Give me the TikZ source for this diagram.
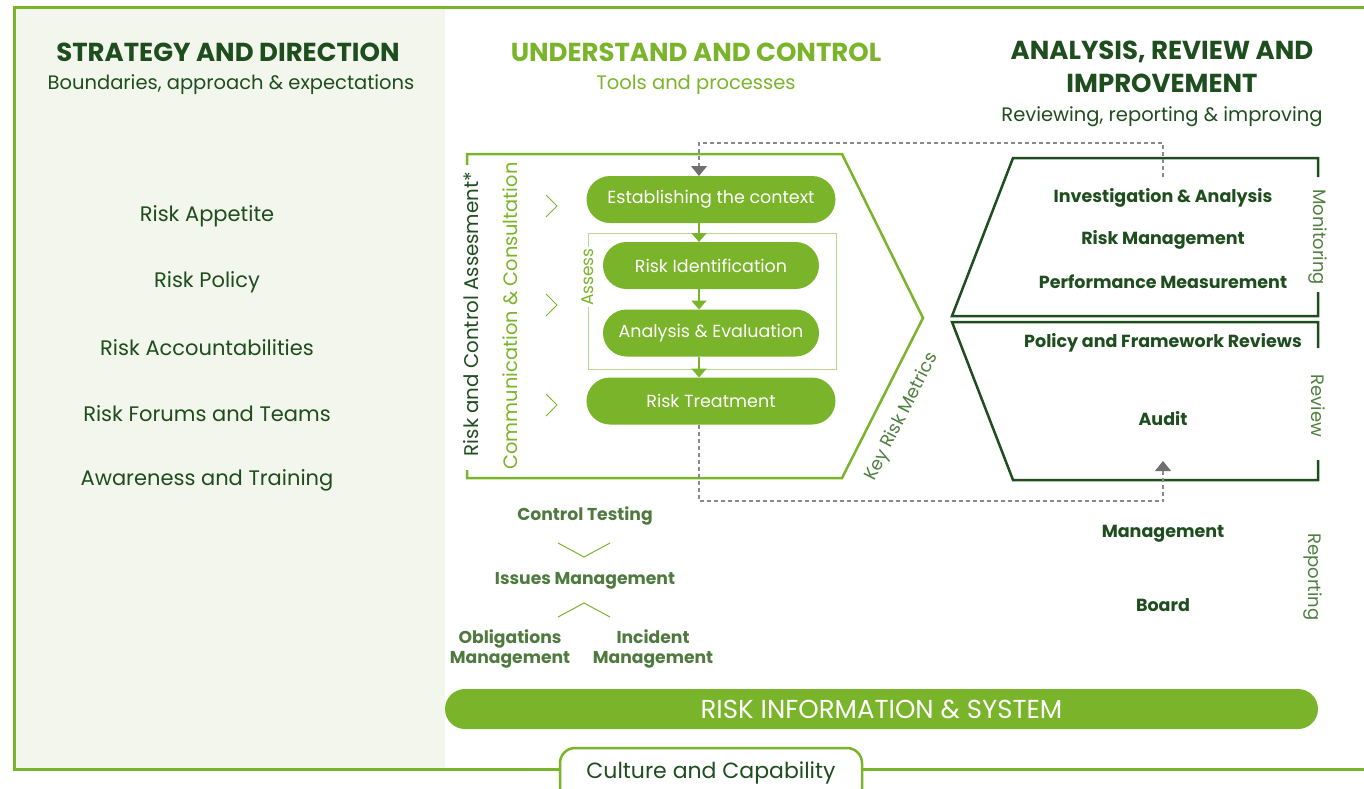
\documentclass[tikz,border=0pt]{standalone}
\usepackage{fontspec}
\setmainfont{Poppins}
\usetikzlibrary{arrows.meta}
\definecolor{lg}{HTML}{7AB42A}
\definecolor{dg}{HTML}{1E4D1E}
\definecolor{panel}{HTML}{F3F6EC}
\definecolor{mg}{HTML}{4F7A3F}
\definecolor{sidegreen}{HTML}{4F8040}
\definecolor{assessgreen}{HTML}{B7D68E}
\definecolor{dashgrey}{HTML}{8A8A8A}
\definecolor{tipgrey}{HTML}{6F6F6F}
\newcommand{\fs}[1]{\fontsize{#1}{#1}\selectfont}
\begin{document}
\begin{tikzpicture}[x=1pt,y=-1pt,
  every node/.style={inner sep=0pt, outer sep=0pt},
  heading/.style={font=\fs{26}\bfseries, align=center},
  subhead/.style={font=\fs{19.5}, align=center},
  listitem/.style={font=\fs{21}, text=dg},
  pill/.style={fill=lg, text=white, font=\fs{17.5}, rounded corners=23.5pt,
    minimum height=47pt},
  rightitem/.style={font=\fs{17.5}\bfseries, text=dg},
  lowitem/.style={font=\fs{17.2}\bfseries, text=mg, align=center},
  sidelabel/.style={font=\fs{18}, text=sidegreen, rotate=-90},
  flowarrow/.style={lg, line width=2pt, -{Triangle[width=15pt,length=9pt]}},
  dashlink/.style={dashgrey, line width=1.2pt, dash pattern=on 4pt off 3pt},
  dashtip/.style={dashlink, -{Triangle[width=16pt,length=10pt,fill=tipgrey,color=tipgrey]}},
  chev/.style={lg, line width=1pt},
  frameline/.style={lg, line width=2.5pt},
  darkframe/.style={dg, line width=2.5pt, line join=miter}
]
\useasboundingbox (0,0) rectangle (1364,788);

% left panel and outer frame
\fill[panel] (14,7) rectangle (445,769);
\draw[frameline, line width=3pt] (1364,7) -- (14,7) -- (14,769) -- (1364,769);

% column headings
\node[heading, text=dg] (h1) at (228,52) {STRATEGY AND DIRECTION};
\node[subhead, text=dg] (s1) at (231,85) {Boundaries, approach \& expectations};
\node[heading, text=lg] (h2) at (696,52) {UNDERSTAND AND CONTROL};
\node[subhead, text=lg] (s2) at (696,85) {Tools and processes};
\node[heading, text=dg] (h3a) at (1162,52) {ANALYSIS, REVIEW AND};
\node[heading, text=dg] (h3b) at (1162,83) {IMPROVEMENT};
\node[subhead, text=dg] (s3) at (1162,117) {Reviewing, reporting \& improving};

% strategy list
\node[listitem] (l1) at (207,216) {Risk Appetite};
\node[listitem] (l2) at (207,282) {Risk Policy};
\node[listitem] (l3) at (207,348) {Risk Accountabilities};
\node[listitem] (l4) at (207,414) {Risk Forums and Teams};
\node[listitem] (l5) at (207,480) {Awareness and Training};

% green chevron of the assessment process
\draw[frameline, line join=miter] (467,165) -- (467,154) -- (842,154) -- (923,318) -- (842,478) -- (467,478) -- (467,470);
\node[font=\fs{19.8}, text=dg, rotate=90] (rca) at (471,314) {Risk and Control Assesment*};
\node[font=\fs{19.4}, text=lg, rotate=90] (cc) at (510,316) {Communication \& Consultation};
\node[font=\fs{18}, text=sidegreen, rotate=63] (krm) at (902,417) {Key Risk Metrics};

% small chevrons
\foreach \yy in {206,305,405}{
  \draw[chev] (546,\yy-11) -- (557,\yy) -- (546,\yy+11);
}

% assess group box
\draw[assessgreen, line width=1pt] (588,233) rectangle (836,369);
\node[font=\fs{17}, text=lg, fill=white, rotate=90, inner xsep=1pt] (assess) at (588,277) {Assess};

% process steps
\node[pill, minimum width=249pt] (est) at (711,199.5) {Establishing the context};
\node[pill, minimum width=216pt] (rid) at (711,265.5) {Risk Identification};
\node[pill, minimum width=216pt] (ae) at (711,333) {Analysis \& Evaluation};
\node[pill, minimum width=249pt] (rt) at (711,401) {Risk Treatment};

\coordinate (ax) at (699,0);
\draw[flowarrow] (est.south -| ax) -- (rid.north -| ax);
\draw[flowarrow] (rid.south -| ax) -- (ae.north -| ax);
\draw[flowarrow] (ae.south -| ax) -- (rt.north -| ax);

% right side: monitoring and review
\draw[darkframe] (1318,177) -- (1318,158) -- (1013,158) -- (952,316) -- (1318,316) -- (1318,292);
\draw[darkframe] (1318,348) -- (1318,322) -- (952,322) -- (1013,480) -- (1318,480) -- (1318,460);
\node[sidelabel] (mon) at (1318,237) {Monitoring};
\node[sidelabel] (rev) at (1318,406) {Review};
\node[sidelabel] (rep) at (1313,577) {Reporting};

\node[rightitem] (ia) at (1163,198) {Investigation \& Analysis};
\node[rightitem] (rm) at (1163,240) {Risk Management};
\node[rightitem] (pm) at (1163,282) {Performance Measurement};
\node[rightitem] (pfr) at (1163,343) {Policy and Framework Reviews};
\node[rightitem] (aud) at (1163,419) {Audit};
\node[rightitem] (mgt) at (1163,534) {Management};
\node[rightitem] (brd) at (1163,605) {Board};

% dashed feedback links
\coordinate (tr) at (1163,177);
\coordinate (au) at (1163,461);
\draw[dashtip] (tr) -- (tr |- 0,143) -- (ax |- 0,143) -- (est.north -| ax);
\draw[dashtip] (rt.south -| ax) -- (ax |- 0,501) -- (au |- 0,501) -- (au);

% control testing cascade
\node[lowitem] (ct) at (585,516) {Control Testing};
\node[lowitem] (im) at (585,581) {Issues Management};
\node[lowitem] (om) at (510,649) {Obligations\\[2pt]Management};
\node[lowitem] (icm) at (653,649) {Incident\\[2pt]Management};
\draw[chev] (558,543) -- (584,557) -- (610,543);
\draw[chev] (558,617) -- (584,603) -- (610,617);

% information system bar
\node[fill=lg, text=white, font=\fs{26}, rounded corners=20pt, minimum width=873pt, minimum height=40pt] (ris) at (881.5,709) {RISK INFORMATION \& SYSTEM};

% culture and capability tab
\node[draw=lg, line width=2.5pt, fill=white, rounded corners=15pt, minimum width=302pt, minimum height=56pt, anchor=north] (cul) at (711,748) {};
\node[font=\fs{22}, text=dg] (cult) at (711,773) {Culture and Capability};
\end{tikzpicture}
\end{document}
